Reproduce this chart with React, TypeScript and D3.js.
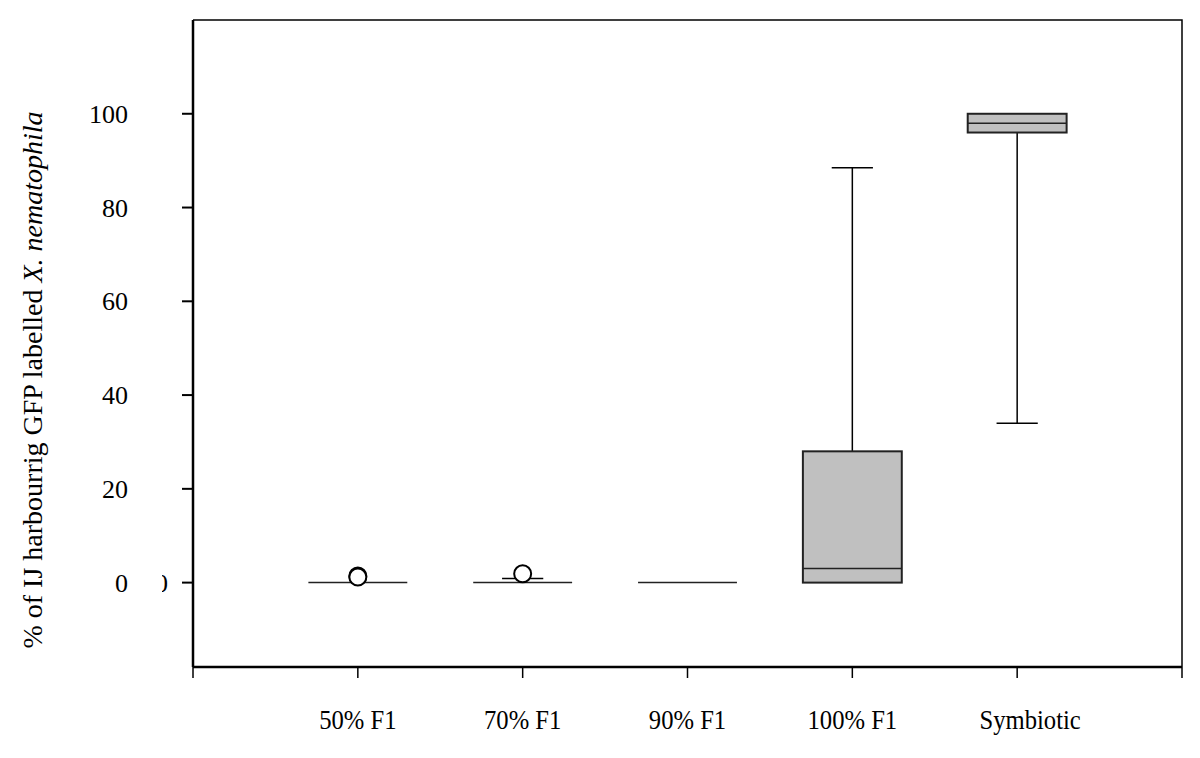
import { useRef, useEffect } from 'react'
import * as d3 from 'd3'

const categories = ['50% F1', '70% F1', '90% F1', '100% F1', 'Symbiotic']
const lowerWhisker = [0, 0, 0, 0, 34]
const q1 = [0, 0, 0, 0, 96]
const median = [0, 0, 0, 3, 98]
const q3 = [0, 0, 0, 28, 100]
const upperWhisker = [0, 0.85, 0, 88.5, 100]
const outliers = [[1.4, 1.2], [1.9], [], [], []]
const yTicks = [0, 20, 40, 60, 80, 100]

export default function App() {
  const svgRef = useRef<SVGSVGElement>(null)

  useEffect(() => {
    if (!svgRef.current) return
    const svg = d3.select(svgRef.current)
    svg.selectAll('*').remove()

    const left = 193, right = 1182, top = 20, bottom = 667
    const font = '"Liberation Serif", "Times New Roman", serif'

    const x = d3.scaleLinear().domain([0, categories.length + 1]).range([left, right])
    const y = d3.scaleLinear().domain([-18, 120]).range([bottom, top])
    const step = x(1) - x(0)
    const boxW = step * 0.6
    const capW = step * 0.25

    // frame (top and right)
    svg.append('path')
      .attr('d', `M${left},${top}H${right}V${bottom}`)
      .attr('fill', 'none')
      .attr('stroke', '#000')
      .attr('stroke-width', 1.5)

    // boxes
    categories.forEach((c, i) => {
      const cx = x(i + 1)
      const g = svg.append('g')
      if (upperWhisker[i] > q3[i]) {
        g.append('line').attr('x1', cx).attr('x2', cx).attr('y1', y(q3[i])).attr('y2', y(upperWhisker[i]))
          .attr('stroke', '#000').attr('stroke-width', 1.5)
        g.append('line').attr('x1', cx - capW / 2).attr('x2', cx + capW / 2)
          .attr('y1', y(upperWhisker[i])).attr('y2', y(upperWhisker[i]))
          .attr('stroke', '#000').attr('stroke-width', 1.5)
      }
      if (lowerWhisker[i] < q1[i]) {
        g.append('line').attr('x1', cx).attr('x2', cx).attr('y1', y(q1[i])).attr('y2', y(lowerWhisker[i]))
          .attr('stroke', '#000').attr('stroke-width', 1.5)
        g.append('line').attr('x1', cx - capW / 2).attr('x2', cx + capW / 2)
          .attr('y1', y(lowerWhisker[i])).attr('y2', y(lowerWhisker[i]))
          .attr('stroke', '#000').attr('stroke-width', 1.5)
      }
      if (q3[i] > q1[i]) {
        g.append('rect')
          .attr('x', cx - boxW / 2).attr('y', y(q3[i]))
          .attr('width', boxW).attr('height', y(q1[i]) - y(q3[i]))
          .attr('fill', '#c0c0c0').attr('stroke', '#222').attr('stroke-width', 2)
      }
      g.append('line').attr('x1', cx - boxW / 2).attr('x2', cx + boxW / 2)
        .attr('y1', y(median[i])).attr('y2', y(median[i]))
        .attr('stroke', '#222').attr('stroke-width', 1.5)
      outliers[i].forEach(v => {
        g.append('circle').attr('cx', cx).attr('cy', y(v)).attr('r', 8.5)
          .attr('fill', '#fff').attr('stroke', '#000').attr('stroke-width', 2)
      })
    })

    // y axis
    svg.append('line').attr('x1', left).attr('x2', left).attr('y1', top).attr('y2', bottom)
      .attr('stroke', '#000').attr('stroke-width', 2.5)
    yTicks.forEach(t => {
      svg.append('line').attr('x1', left - 11).attr('x2', left).attr('y1', y(t)).attr('y2', y(t))
        .attr('stroke', '#000').attr('stroke-width', 2)
      svg.append('text').attr('x', 128).attr('y', y(t)).attr('dy', '0.35em')
        .attr('text-anchor', 'end').attr('font-family', font).attr('font-size', 26)
        .text(String(t))
    })
    // clipped stray label at far left of the axis
    const clip = svg.append('clipPath').attr('id', 'stray')
    clip.append('rect').attr('x', 162).attr('y', 560).attr('width', 10).attr('height', 50)
    svg.append('text').attr('x', 168).attr('y', y(0)).attr('dy', '0.35em')
      .attr('text-anchor', 'end').attr('font-family', font).attr('font-size', 26)
      .attr('clip-path', 'url(#stray)').text('0')

    // x axis
    svg.append('line').attr('x1', left).attr('x2', right).attr('y1', bottom).attr('y2', bottom)
      .attr('stroke', '#000').attr('stroke-width', 2.5)
    d3.range(categories.length + 2).forEach(i => {
      svg.append('line').attr('x1', x(i)).attr('x2', x(i)).attr('y1', bottom).attr('y2', bottom + 11)
        .attr('stroke', '#000').attr('stroke-width', 1.5)
    })
    categories.forEach((c, i) => {
      const cx = x(i + 1) + (i === categories.length - 1 ? 13 : 0)
      svg.append('text')
        .attr('transform', `translate(${cx},729) scale(0.88,1)`)
        .attr('text-anchor', 'middle').attr('font-family', font).attr('font-size', 28)
        .text(c)
    })

    // y title
    const title = svg.append('text')
      .attr('transform', `translate(42,380) rotate(-90)`)
      .attr('text-anchor', 'middle').attr('font-family', font).attr('font-size', 28)
    title.append('tspan').text('% of  IJ harbourrig GFP labelled ')
    title.append('tspan').attr('font-style', 'italic').text('X. nematophila')
  }, [])

  return (
    <svg ref={svgRef} width={1200} height={758}
      style={{ position: 'absolute', left: 0, top: 0, background: '#fff' }} />
  )
}
